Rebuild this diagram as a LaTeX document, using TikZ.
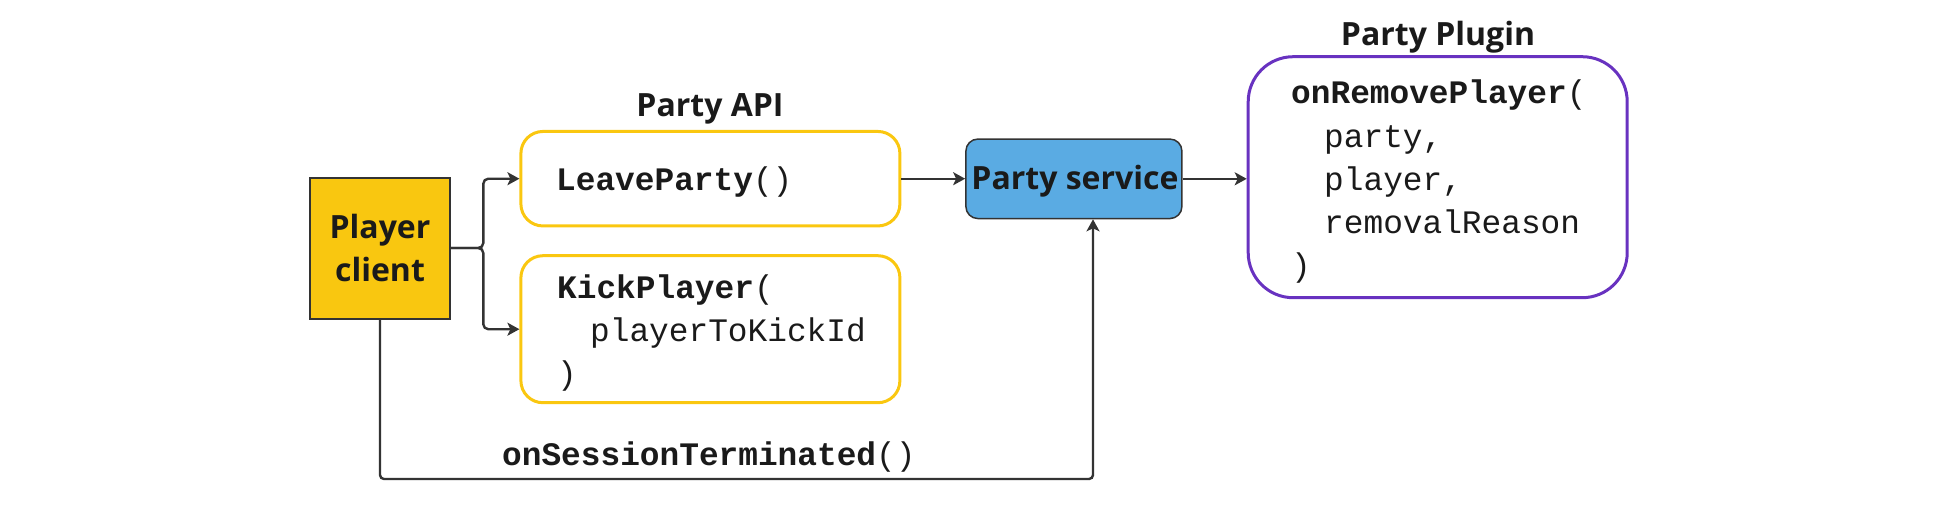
\documentclass[tikz,border=0pt]{standalone}
\usepackage{fontspec}
\setmainfont{Open Sans}
\newfontfamily\codefont{Liberation Mono}
\newfontfamily\titlefont{Open Sans}
\usetikzlibrary{arrows.meta}
\definecolor{yfill}{RGB}{249,199,16}
\definecolor{yline}{RGB}{250,199,16}
\definecolor{bfill}{RGB}{90,171,227}
\definecolor{pline}{RGB}{104,50,192}
\definecolor{dline}{RGB}{51,51,51}
\definecolor{tcol}{RGB}{26,26,26}
\tikzset{
  apibox/.style={draw=yline, line width=3pt, rounded corners=22pt, minimum width=379pt, inner sep=0pt},
  plugbox/.style={draw=pline, line width=3pt, rounded corners=45pt, minimum width=379pt, minimum height=241pt, inner sep=0pt},
  playbox/.style={draw=dline, fill=yfill, line width=2pt, minimum width=140pt, minimum height=141pt, inner sep=0pt},
  servbox/.style={draw=dline, fill=bfill, line width=1.5pt, rounded corners=12pt, minimum width=216pt, minimum height=79.5pt, inner sep=0pt},
  conn/.style={draw=dline, line width=2.4pt, -{Stealth[length=12pt,width=13pt,inset=3pt]}},
  title/.style={anchor=base, inner sep=0pt, text=tcol, font=\titlefont\bfseries\fontsize{32}{43}\selectfont},
  code/.style={anchor=base west, inner sep=0pt, text=tcol, font=\codefont\fontsize{32.8}{43}\selectfont},
}
\begin{document}
\begin{tikzpicture}[x=1pt,y=-1pt]
\useasboundingbox (0,0) rectangle (1940,515);
% boxes
\node[playbox] (player) at (380,248) {};
\node[apibox, minimum height=94.5pt] (leave) at (710.4,178.7) {};
\node[apibox, minimum height=147pt] (kick) at (710.4,329.2) {};
\node[servbox] (service) at (1073.9,178.8) {};
\node[plugbox] (plugin) at (1437.7,177.2) {};
% texts
\node[title] (tplayer1) at (380,238.3) {Player};
\node[title] (tplayer2) at (380,281.7) {client};
\node[title] (tapi) at (710,116.7) {Party API};
\node[title] (tplugin) at (1438,45) {Party Plugin};
\node[title] (tservice) at (1075,189.3) {Party service};
\node[code] (tleave) at (556,190.7) {\textbf{LeaveParty}()};
\node[code] (tkick1) at (557,298) {\textbf{KickPlayer}(};
\node[code] (tkick2) at (590,341.7) {playerToKickId};
\node[code] (tkick3) at (557,384) {)};
\node[code] (tplug1) at (1291,103.5) {\textbf{onRemovePlayer}(};
\node[code] (tplug2) at (1324,147) {party,};
\node[code] (tplug3) at (1324,190) {player,};
\node[code] (tplug4) at (1324,233) {removalReason};
\node[code] (tplug5) at (1291,276) {)};
\node[code] (tsess) at (502,465) {\textbf{onSessionTerminated}()};
% connectors
\coordinate (branch) at (483.3,248);
\coordinate (turn) at (1093,479);
\draw[conn, rounded corners=5pt] (player.east) -- (branch) |- (leave.west);
\draw[conn, rounded corners=5pt] (player.east) -- (branch) |- (kick.west);
\draw[conn] (leave.east) -- (leave.east -| service.west);
\draw[conn] (service.east) -- (service.east -| plugin.west);
\draw[conn, rounded corners=4pt] (player.south) |- (turn) -- (turn |- service.south);
\end{tikzpicture}
\end{document}
